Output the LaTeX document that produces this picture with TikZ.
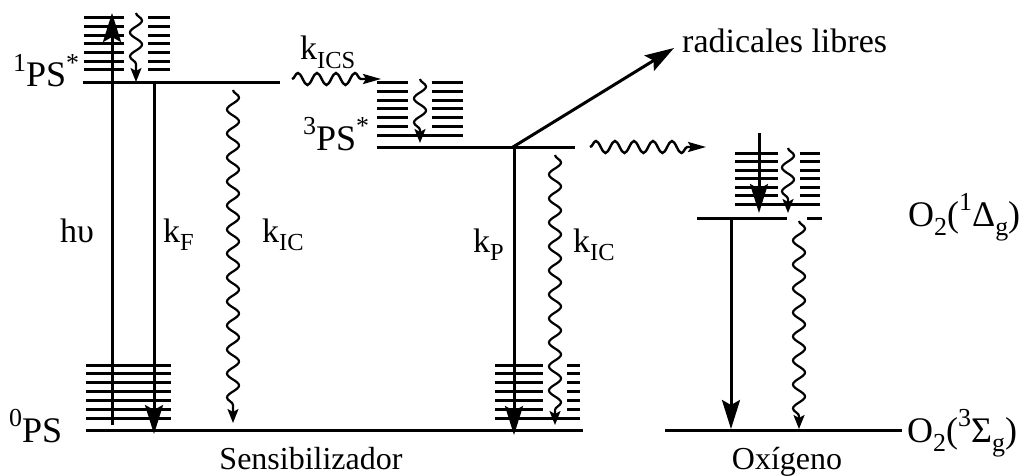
\documentclass[tikz,border=0pt]{standalone}
\usepackage{fontspec}
\usepackage{graphicx}
\setmainfont{Liberation Serif}
\usetikzlibrary{decorations.pathmorphing,arrows.meta}
\newcommand\lsub[1]{\raisebox{-0.26em}{\scalebox{0.72}{#1}}}
\newcommand\lsup[1]{\raisebox{0.42em}{\scalebox{0.72}{#1}}}
\begin{document}
\begin{tikzpicture}[x=1pt,y=-1pt,
  lvl/.style={line width=3pt},
  vib/.style={line width=3pt},
  bigarrow/.style={line width=3pt,-{Stealth[length=29pt,width=18pt,inset=5pt]}},
  wavy/.style={line width=2.2pt,decorate,
     decoration={snake,amplitude=6pt,segment length=24pt,post length=10pt},
     -{Stealth[length=14pt,width=11pt,inset=3pt]}},
  hwavy/.style={line width=2.4pt,decorate,
     decoration={snake,amplitude=6pt,segment length=19pt,post length=14pt},
     -{Stealth[length=18pt,width=10pt,inset=3pt]}},
  lab/.style={inner sep=0pt,font=\fontsize{34}{40}\selectfont},
  lvlab/.style={inner sep=0pt,font=\fontsize{36}{42}\selectfont},
  botlab/.style={inner sep=0pt,font=\fontsize{32}{38}\selectfont}]
\useasboundingbox (0,0) rectangle (1019,476);

% ---------- coordinates ----------
\coordinate (S0l) at (86,430);   \coordinate (S0r) at (583,430);
\coordinate (S1l) at (83,83);    \coordinate (S1r) at (280,83);
\coordinate (T1l) at (377,147);  \coordinate (T1r) at (575,147);
\coordinate (G0l) at (665,430);  \coordinate (G0r) at (902,430);
\coordinate (D1l) at (697,218);  \coordinate (D1m) at (787,218);
\coordinate (D1n) at (807,218);  \coordinate (D1r) at (822,218);

% ---------- levels ----------
\draw[lvl] (S0l) -- (S0r);
\draw[lvl] (S1l) -- (S1r);
\draw[lvl] (T1l) -- (T1r);
\draw[lvl] (G0l) -- (G0r);
\draw[lvl] (D1l) -- (D1m);
\draw[lvl] (D1n) -- (D1r);

% ---------- vibrational stacks ----------
% S1 stack
\foreach \y in {18,26.7,35.3,44,52.7,61.3,70}{
  \draw[vib] (84,\y) -- (124,\y);
  \draw[vib] (148,\y) -- (170,\y);}
% S0 stack (left)
\foreach \y in {365,373.8,382.7,391.5,400.3,409.2,418}{
  \draw[vib] (86,\y) -- (171,\y);}
% T1 stack
\foreach \y in {83,91.7,100.3,109,117.7,126.3}{
  \draw[vib] (377,\y) -- (408,\y);
  \draw[vib] (432,\y) -- (463,\y);}
\draw[vib] (377,135) -- (463,135);
% S0 stack (right)
\foreach \y in {365,373.8,382.7,391.5,400.3,409.2}{
  \draw[vib] (495,\y) -- (543,\y);
  \draw[vib] (567,\y) -- (580,\y);}
\draw[vib] (495,418) -- (580,418);
% O2 stack
\foreach \y in {153,161.5,170,178.5,187,195.5}{
  \draw[vib] (735,\y) -- (778,\y);
  \draw[vib] (800,\y) -- (820,\y);}
\draw[vib] (735,204) -- (820,204);

% ---------- arrows ----------
\coordinate (hvA) at (112,425); \coordinate (hvB) at (112,13);
\draw[bigarrow] (hvA) -- (hvB);
\coordinate (r1A) at (136,13); \coordinate (r1B) at (136,82);
\draw[wavy] (r1A) -- (r1B);
\coordinate (kFA) at (154,83); \coordinate (kFB) at (154,434);
\draw[bigarrow] (kFA) -- (kFB);
\coordinate (ic1A) at (233,90); \coordinate (ic1B) at (233,423);
\draw[wavy] (ic1A) -- (ic1B);
\coordinate (iscA) at (292,79); \coordinate (iscB) at (381,79);
\draw[hwavy] (iscA) -- (iscB);
\coordinate (r3A) at (420,79); \coordinate (r3B) at (420,143);
\draw[wavy] (r3A) -- (r3B);
\coordinate (radA) at (513,147); \coordinate (radB) at (674,48);
\draw[bigarrow] (radA) -- (radB);
\coordinate (kPA) at (514,147); \coordinate (kPB) at (514,435);
\draw[bigarrow] (kPA) -- (kPB);
\coordinate (ic2A) at (555,155); \coordinate (ic2B) at (555,425);
\draw[wavy] (ic2A) -- (ic2B);
\coordinate (etA) at (590,147); \coordinate (etB) at (706,147);
\draw[hwavy] (etA) -- (etB);
\coordinate (o2dA) at (759,133); \coordinate (o2dB) at (759,213);
\draw[bigarrow] (o2dA) -- (o2dB);
\coordinate (o2rA) at (788,148); \coordinate (o2rB) at (788,213);
\draw[wavy] (o2rA) -- (o2rB);
\coordinate (o2pA) at (731,218); \coordinate (o2pB) at (731,429);
\draw[bigarrow] (o2pA) -- (o2pB);
\coordinate (o2wA) at (799,221); \coordinate (o2wB) at (799,429);
\draw[wavy] (o2wA) -- (o2wB);

% ---------- labels ----------
\node[lvlab,anchor=base west] (l1) at (13,87) {\lsup{1}PS\lsup{*}};
\node[lvlab,anchor=base west] (l3) at (303,150) {\lsup{3}PS\lsup{*}};
\node[lvlab,anchor=base west] (l0) at (9,442) {\lsup{0}PS};
\node[lvlab,anchor=base west] (lD) at (908,226) {O\lsub{2}(\lsup{1}Δ\lsub{g})};
\node[lvlab,anchor=base west] (lS) at (907,442) {O\lsub{2}(\lsup{3}Σ\lsub{g})};
\node[lab,anchor=base west] (lhv) at (60,242) {hυ};
\node[lab,anchor=base west] (lkF) at (163,242) {k\lsub{F}};
\node[lab,anchor=base west] (lkIC1) at (262,242) {k\lsub{IC}};
\node[lab,anchor=base west] (lkP) at (473,252) {k\lsub{P}};
\node[lab,anchor=base west] (lkIC2) at (573,252) {k\lsub{IC}};
\node[lab,anchor=base west] (lkISC) at (300,60) {k\lsub{ICS}};
\node[lab,anchor=base west] (lrad) at (682,53) {radicales libres};
\node[botlab,anchor=base] (lsens) at (311,469) {Sensibilizador};
\node[botlab,anchor=base] (loxy) at (787,469) {Oxígeno};
\end{tikzpicture}
\end{document}
